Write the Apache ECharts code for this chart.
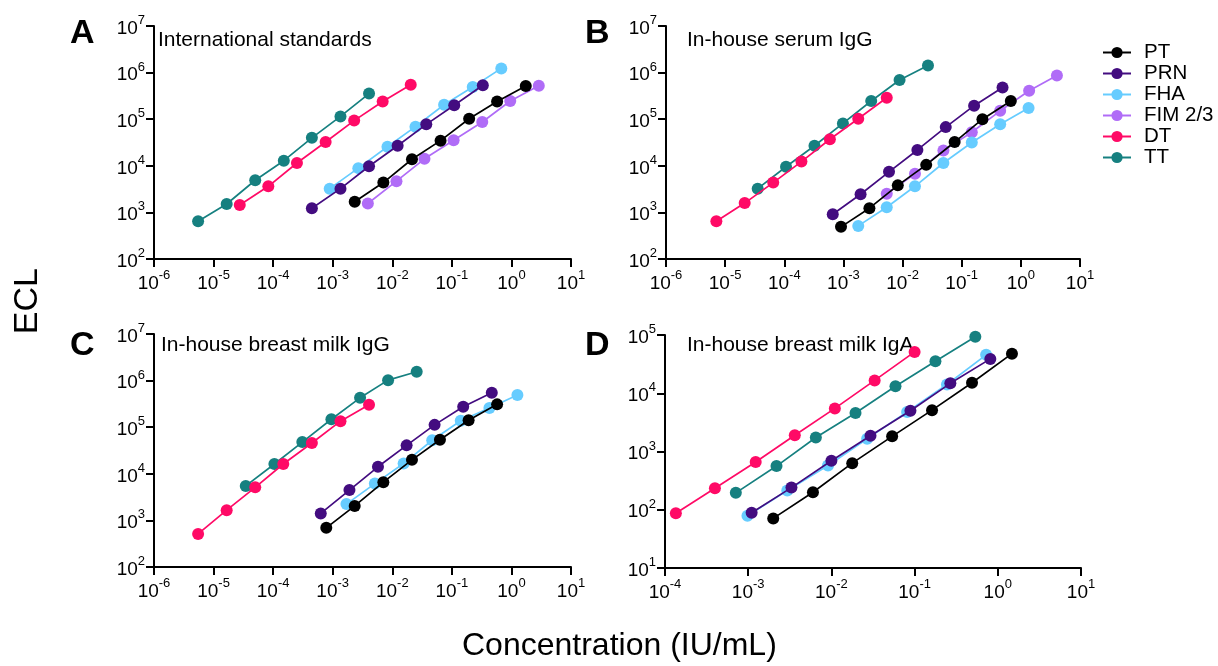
<!DOCTYPE html>
<html>
<head>
<meta charset="utf-8">
<script src="https://cdn.jsdelivr.net/npm/echarts@6/dist/echarts.min.js"></script>
<style>
html,body{margin:0;padding:0;background:#fff;}
#chart{width:1218px;height:666px;}
</style>
</head>
<body>
<div id="chart"></div>
<script>
// ---- Data (concentration IU/mL, ECL) ----
var seriesNames = ['PT', 'PRN', 'FHA', 'FIM 2/3', 'DT', 'TT'];
var seriesColors = ['#000000', '#430c80', '#66ccff', '#b06cf7', '#ff0a66', '#168080'];
var panelTitles = ['International standards', 'In-house serum IgG', 'In-house breast milk IgG', 'In-house breast milk IgA'];
var panelLetters = ['A', 'B', 'C', 'D'];

// Panel A: International standards
var A_PT_x = [2.34e-3, 7.08e-3, 0.0214, 0.0646, 0.195, 0.575, 1.74];
var A_PT_y = [1698, 4365, 13800, 34670, 102300, 239900, 512900];
var A_PRN_x = [4.47e-4, 1.35e-3, 4.07e-3, 0.0123, 0.0372, 0.1096, 0.331];
var A_PRN_y = [1230, 3236, 9772, 26920, 77620, 199500, 537000];
var A_FHA_x = [8.9e-4, 2.69e-3, 8.3e-3, 0.0245, 0.0741, 0.224, 0.676];
var A_FHA_y = [3236, 8913, 25700, 69180, 204200, 489800, 1230000];
var A_FIM_x = [3.89e-3, 0.01175, 0.0347, 0.107, 0.324, 0.955, 2.88];
var A_FIM_y = [1549, 4677, 14130, 35480, 87100, 245500, 524800];
var A_DT_x = [2.75e-5, 8.3e-5, 2.51e-4, 7.6e-4, 2.29e-3, 6.9e-3, 0.0204];
var A_DT_y = [1445, 3631, 11480, 32360, 93330, 239900, 549500];
var A_TT_x = [5.5e-6, 1.66e-5, 5.0e-5, 1.51e-4, 4.47e-4, 1.35e-3, 4.07e-3];
var A_TT_y = [646, 1514, 4898, 12880, 39810, 114800, 354800];

// Panel B: In-house serum IgG
var B_PT_x = [9.1e-4, 2.75e-3, 8.3e-3, 0.0251, 0.0759, 0.224, 0.676];
var B_PT_y = [490, 1230, 3802, 10470, 32360, 100000, 245500];
var B_PRN_x = [6.6e-4, 1.95e-3, 5.9e-3, 0.0178, 0.0537, 0.162, 0.49];
var B_PRN_y = [912, 2455, 7413, 21880, 67610, 195000, 478600];
var B_FHA_x = [1.78e-3, 5.4e-3, 0.0162, 0.049, 0.148, 0.447, 1.35];
var B_FHA_y = [513, 1288, 3631, 11480, 31620, 77620, 173800];
var B_FIM_x = [5.4e-3, 0.0162, 0.049, 0.148, 0.447, 1.38, 4.07];
var B_FIM_y = [2512, 6761, 21380, 52480, 151400, 407400, 871000];
var B_DT_x = [7.1e-6, 2.14e-5, 6.5e-5, 1.95e-4, 5.9e-4, 1.78e-3, 5.4e-3];
var B_DT_y = [646, 1585, 4365, 12300, 37150, 102300, 288400];
var B_TT_x = [3.55e-5, 1.07e-4, 3.24e-4, 9.8e-4, 2.95e-3, 8.9e-3, 0.0269];
var B_TT_y = [3236, 9550, 26920, 81280, 245500, 691800, 1413000];

// Panel C: In-house breast milk IgG
var C_PT_x = [7.8e-4, 2.34e-3, 7.08e-3, 0.0214, 0.0631, 0.191, 0.575];
var C_PT_y = [692, 2042, 6607, 19950, 53700, 141300, 309000];
var C_PRN_x = [6.3e-4, 1.91e-3, 5.75e-3, 0.0174, 0.0513, 0.155, 0.468];
var C_PRN_y = [1413, 4467, 14130, 40740, 112200, 275400, 549500];
var C_FHA_x = [1.7e-3, 5.1e-3, 0.0155, 0.0468, 0.141, 0.427, 1.26];
var C_FHA_y = [2239, 6166, 16600, 52480, 138000, 257000, 489800];
var C_DT_x = [5.5e-6, 1.66e-5, 5.0e-5, 1.48e-4, 4.47e-4, 1.35e-3, 4.07e-3];
var C_DT_y = [513, 1660, 5129, 16220, 45710, 134900, 302000];
var C_TT_x = [3.47e-5, 1.05e-4, 3.09e-4, 9.5e-4, 2.88e-3, 8.5e-3, 0.0257];
var C_TT_y = [5495, 16220, 47860, 147900, 426600, 1023000, 1549000];

// Panel D: In-house breast milk IgA
var D_PT_x = [2.0e-3, 6.0e-3, 0.0178, 0.0537, 0.162, 0.49, 1.48];
var D_PT_y = [71, 200, 631, 1820, 5129, 15140, 47860];
var D_PRN_x = [1.1e-3, 3.31e-3, 0.01, 0.0295, 0.0891, 0.269, 0.813];
var D_PRN_y = [89, 240, 692, 1862, 5012, 14790, 38900];
var D_FHA_x = [9.8e-4, 2.95e-3, 9.1e-3, 0.0269, 0.0813, 0.245, 0.724];
var D_FHA_y = [79, 214, 575, 1660, 4786, 14130, 45710];
var D_DT_x = [1.35e-4, 3.98e-4, 1.23e-3, 3.63e-3, 0.011, 0.0331, 0.1];
var D_DT_y = [87, 234, 661, 1905, 5495, 16600, 51290];
var D_TT_x = [7.1e-4, 2.19e-3, 6.5e-3, 0.0195, 0.0589, 0.178, 0.537];
var D_TT_y = [195, 562, 1738, 4571, 13180, 35480, 93330];

var panels = [
  {PT: [A_PT_x, A_PT_y], PRN: [A_PRN_x, A_PRN_y], FHA: [A_FHA_x, A_FHA_y], 'FIM 2/3': [A_FIM_x, A_FIM_y], DT: [A_DT_x, A_DT_y], TT: [A_TT_x, A_TT_y]},
  {PT: [B_PT_x, B_PT_y], PRN: [B_PRN_x, B_PRN_y], FHA: [B_FHA_x, B_FHA_y], 'FIM 2/3': [B_FIM_x, B_FIM_y], DT: [B_DT_x, B_DT_y], TT: [B_TT_x, B_TT_y]},
  {PT: [C_PT_x, C_PT_y], PRN: [C_PRN_x, C_PRN_y], FHA: [C_FHA_x, C_FHA_y], DT: [C_DT_x, C_DT_y], TT: [C_TT_x, C_TT_y]},
  {PT: [D_PT_x, D_PT_y], PRN: [D_PRN_x, D_PRN_y], FHA: [D_FHA_x, D_FHA_y], DT: [D_DT_x, D_DT_y], TT: [D_TT_x, D_TT_y]}
];

// ---- Layout ----
var FONT = 'Liberation Sans, Arial, Helvetica, sans-serif';
var grids = [
  {left: 154, top: 26, width: 417, height: 233},
  {left: 666, top: 26, width: 414, height: 233},
  {left: 154, top: 334, width: 417, height: 233},
  {left: 665, top: 335, width: 416, height: 233}
];
var xRanges = [[1e-6, 10], [1e-6, 10], [1e-6, 10], [1e-4, 10]];
var yRanges = [[1e2, 1e7], [1e2, 1e7], [1e2, 1e7], [1e1, 1e5]];

function expLabel(v) {
  var e = Math.round(Math.log(v) / Math.LN10);
  return '{b|10}{s|' + e + '}';
}
var richLbl = {
  b: {fontFamily: FONT, fontSize: 19, color: '#000', lineHeight: 24, verticalAlign: 'bottom'},
  s: {fontFamily: FONT, fontSize: 13, color: '#000', lineHeight: 24, verticalAlign: 'top', padding: [0, 0, 7, 0]}
};
var axisCommon = {
  type: 'log', logBase: 10, interval: 1,
  axisLine: {show: true, lineStyle: {color: '#000', width: 2}},
  axisTick: {show: true, inside: false, length: 8, lineStyle: {color: '#000', width: 2}},
  splitLine: {show: false},
  minorTick: {show: false}
};

var xAxes = [], yAxes = [], series = [];
for (var i = 0; i < 4; i++) {
  xAxes.push(Object.assign({}, axisCommon, {
    gridIndex: i, min: xRanges[i][0], max: xRanges[i][1],
    axisLabel: {formatter: expLabel, rich: richLbl, margin: 10, showMinLabel: true, showMaxLabel: true}
  }));
  yAxes.push(Object.assign({}, axisCommon, {
    gridIndex: i, min: yRanges[i][0], max: yRanges[i][1],
    axisLabel: {formatter: expLabel, rich: richLbl, margin: 9, showMinLabel: true, showMaxLabel: true}
  }));
  // draw in reverse so the first legend entry ends on top
  for (var k = seriesNames.length - 1; k >= 0; k--) {
    var nm = seriesNames[k];
    var pair = panels[i][nm];
    if (!pair) continue;
    var pts = [];
    for (var j = 0; j < pair[0].length; j++) pts.push([pair[0][j], pair[1][j]]);
    series.push({
      name: nm, type: 'line', xAxisIndex: i, yAxisIndex: i,
      data: pts, symbol: 'circle', symbolSize: 12, showSymbol: true,
      lineStyle: {color: seriesColors[k], width: 1.7},
      itemStyle: {color: seriesColors[k]},
      z: 10 + (seriesNames.length - k)
    });
  }
}

var titles = [
  {text: panelTitles[0], left: 158, top: 30},
  {text: panelTitles[1], left: 687, top: 30},
  {text: panelTitles[2], left: 161, top: 335},
  {text: panelTitles[3], left: 687, top: 335}
].map(function (t) {
  t.textStyle = {fontFamily: FONT, fontSize: 21, fontWeight: 'normal', color: '#000'};
  t.padding = 0;
  return t;
});
var letterPos = [[70, 17], [585, 17], [70, 329], [585, 329]];
letterPos.forEach(function (p, idx) {
  titles.push({text: panelLetters[idx], left: p[0], top: p[1], padding: 0,
    textStyle: {fontFamily: FONT, fontSize: 34, fontWeight: 'bold', color: '#000'}});
});

var chart = echarts.init(document.getElementById('chart'), null, {renderer: 'canvas'});
chart.setOption({
  animation: false,
  backgroundColor: '#fff',
  title: titles,
  legend: {
    orient: 'vertical', left: 1102, top: 42, padding: 0,
    data: seriesNames,
    itemWidth: 28, itemHeight: 14, itemGap: 0,
    textStyle: {fontFamily: FONT, fontSize: 20.5, color: '#000', padding: [0, 0, 0, 8]},
    selectedMode: false
  },
  grid: grids,
  xAxis: xAxes,
  yAxis: yAxes,
  series: series,
  graphic: [
    {type: 'text', left: 11, top: 268, rotation: Math.PI / 2,
      style: {text: 'ECL', font: '34px ' + FONT, fill: '#000'}},
    {type: 'text', left: 462, top: 630,
      style: {text: 'Concentration (IU/mL)', font: '32px ' + FONT, fill: '#000'}}
  ]
});
</script>
</body>
</html>
